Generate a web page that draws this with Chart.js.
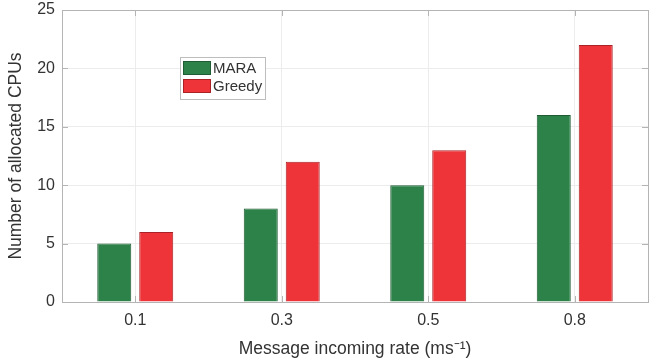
<!DOCTYPE html>
<html>
<head>
<meta charset="utf-8">
<script src="https://cdn.jsdelivr.net/npm/chart.js@4.4.1/dist/chart.umd.min.js"></script>
<style>
html,body{margin:0;padding:0;background:#fff;}
#wrap{width:660px;height:363px;position:relative;}
</style>
</head>
<body>
<div id="wrap"><canvas id="c" width="660" height="363"></canvas></div>
<script>
const categories = ['0.1', '0.3', '0.5', '0.8'];
const maraValues = [5, 8, 10, 16];
const greedyValues = [6, 12, 13, 22];
const yTicks = [0, 5, 10, 15, 20, 25];
const seriesNames = ['MARA', 'Greedy'];

const FONT = '"Liberation Sans", Arial, Helvetica, sans-serif';
const TEXT = '#333333';
const FRAME = '#b4b4b4';

const framePlugin = {
  id: 'frame',
  afterDatasetsDraw(chart) {
    const {ctx, chartArea: a, scales} = chart;
    ctx.save();
    ctx.strokeStyle = FRAME;
    ctx.lineWidth = 1;
    ctx.beginPath();
    categories.forEach((c, i) => {
      const x = Math.round(scales.x.getPixelForValue(i)) + 0.5;
      ctx.moveTo(x, a.bottom); ctx.lineTo(x, a.bottom - 6);
      ctx.moveTo(x, a.top); ctx.lineTo(x, a.top + 6);
    });
    yTicks.forEach(v => {
      const y = Math.round(scales.y.getPixelForValue(v)) + 0.5;
      ctx.moveTo(a.left, y); ctx.lineTo(a.left + 6, y);
      ctx.moveTo(a.right, y); ctx.lineTo(a.right - 6, y);
    });
    ctx.stroke();
    ctx.strokeRect(Math.round(a.left) + 0.5, Math.round(a.top) + 0.5,
                   Math.round(a.right - a.left), Math.round(a.bottom - a.top));
    ctx.restore();
  }
};

const legendPlugin = {
  id: 'customLegend',
  afterDraw(chart) {
    const {ctx, chartArea: a} = chart;
    const x0 = Math.round(a.left) + 118, y0 = Math.round(a.top) + 47;
    const w = 85, h = 42;
    ctx.save();
    ctx.fillStyle = '#fff';
    ctx.fillRect(x0, y0, w, h);
    ctx.strokeStyle = '#bdbdbd';
    ctx.lineWidth = 1;
    ctx.strokeRect(x0 + 0.5, y0 + 0.5, w, h);
    ctx.font = '15px ' + FONT;
    ctx.textBaseline = 'middle';
    chart.data.datasets.forEach((ds, i) => {
      const yy = y0 + 4 + i * 18;
      ctx.fillStyle = ds.backgroundColor;
      ctx.fillRect(x0 + 3.5, yy, 27, 14);
      ctx.strokeStyle = ds.borderColor;
      ctx.strokeRect(x0 + 3.5, yy + 0.5, 27, 13);
      ctx.fillStyle = TEXT;
      ctx.fillText(ds.label, x0 + 33, yy + 7.5);
    });
    ctx.restore();
  }
};

new Chart(document.getElementById('c'), {
  type: 'bar',
  data: {
    labels: categories,
    datasets: [
      {label: seriesNames[0], data: maraValues, backgroundColor: '#2d8249', borderColor: '#1f5c33', borderWidth: 1},
      {label: seriesNames[1], data: greedyValues, backgroundColor: '#ee3439', borderColor: '#a82226', borderWidth: 1}
    ]
  },
  options: {
    responsive: false,
    animation: false,
    devicePixelRatio: 1,
    layout: {padding: {top: 10, right: 12, left: 0, bottom: 0}},
    categoryPercentage: 0.573,
    barPercentage: 0.81,
    plugins: {legend: {display: false}, tooltip: {enabled: false}},
    scales: {
      x: {
        grid: {color: '#ececec', drawTicks: false, offset: false},
        border: {display: false},
        ticks: {color: TEXT, font: {family: FONT, size: 16}, padding: 9},
        title: {display: true, text: 'Message incoming rate (ms\u207B\u00B9)', color: TEXT,
                font: {family: FONT, size: 17.5}, padding: {top: 1, bottom: 3}},
        afterFit(s) { s.height = 61; s.paddingLeft = 0; s.paddingRight = 0; }
      },
      y: {
        min: 0, max: 25,
        afterBuildTicks(s) { s.ticks = yTicks.map(v => ({value: v})); },
        grid: {color: '#ececec', drawTicks: false},
        border: {display: false},
        ticks: {color: TEXT, font: {family: FONT, size: 16}, padding: 7},
        title: {display: true, text: 'Number of allocated CPUs', color: TEXT,
                font: {family: FONT, size: 17.5}, padding: {top: 6, bottom: 0}},
        afterFit(s) { s.width = 62; s.paddingTop = 0; s.paddingBottom = 0; }
      }
    }
  },
  plugins: [framePlugin, legendPlugin]
});
</script>
</body>
</html>
